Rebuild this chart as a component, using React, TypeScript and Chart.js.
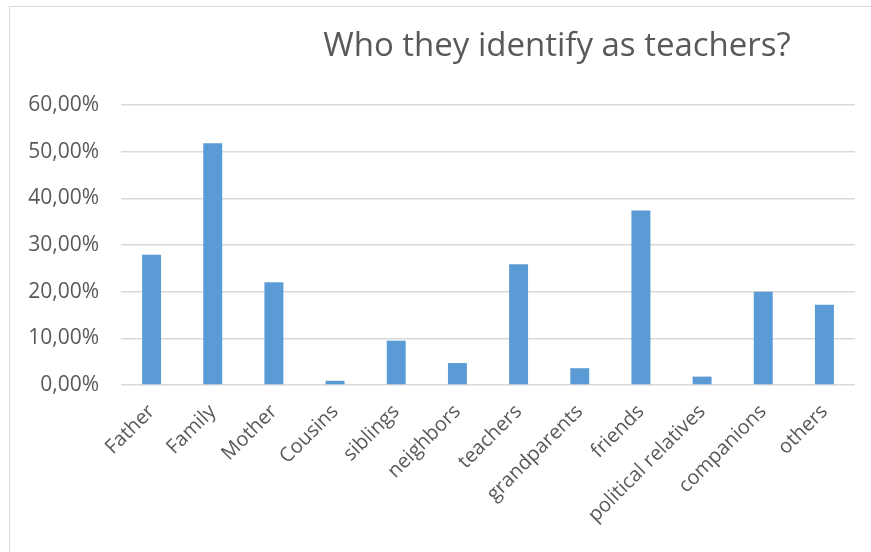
import React, { useEffect, useRef } from "react";
import { Chart, registerables } from "chart.js";

Chart.register(...registerables);

const TITLE = "Who they identify as teachers?";
const categories = [
  "Father",
  "Family",
  "Mother",
  "Cousins",
  "siblings",
  "neighbors",
  "teachers",
  "grandparents",
  "friends",
  "political relatives",
  "companions",
  "others",
];
const shares = [0.279, 0.518, 0.22, 0.009, 0.095, 0.047, 0.259, 0.036, 0.374, 0.018, 0.2, 0.172];
const yMin = 0;
const yMax = 0.6;
const yStep = 0.1;

const FONT = "'Open Sans', 'Liberation Sans', sans-serif";
const TEXT = "#595959";
const GRID = "#d9d9d9";

export default function App() {
  const ref = useRef<HTMLCanvasElement | null>(null);

  useEffect(() => {
    document.body.style.margin = "0";
    const canvas = ref.current;
    if (!canvas) return;

    const titlePlugin = {
      id: "customTitle",
      afterDraw(chart: any) {
        const ctx = chart.ctx;
        ctx.save();
        ctx.fillStyle = TEXT;
        ctx.font = `33px ${FONT}`;
        ctx.textAlign = "center";
        ctx.textBaseline = "alphabetic";
        ctx.fillText(TITLE, 557, 56);
        ctx.restore();
      },
    };

    const chart = new Chart(canvas, {
      type: "bar",
      data: {
        labels: categories,
        datasets: [
          {
            data: shares,
            backgroundColor: "#5b9bd5",
            borderWidth: 0,
            barPercentage: 1,
            categoryPercentage: 0.31,
          },
        ],
      },
      options: {
        animation: false,
        responsive: false,
        maintainAspectRatio: false,
        devicePixelRatio: 1,
        layout: { padding: { left: 0, top: 105, right: 16, bottom: 0 } },
        plugins: {
          legend: { display: false },
          title: { display: false },
          tooltip: { enabled: false },
        },
        scales: {
          x: {
            grid: { display: false, drawTicks: false },
            border: { display: false },
            ticks: {
              color: TEXT,
              font: { family: FONT, size: 20 },
              minRotation: 45,
              maxRotation: 45,
              padding: 15,
              autoSkip: false,
            },
            afterFit(scale: any) {
              scale.height = 167;
            },
          },
          y: {
            min: yMin,
            max: yMax,
            grid: { color: GRID, lineWidth: 1.5, drawTicks: false },
            border: { display: false },
            ticks: {
              stepSize: yStep,
              color: TEXT,
              font: { family: FONT, size: 21 },
              padding: 22,
              callback: (v: any) => (Number(v) * 100).toFixed(2).replace(".", ",") + "%",
            },
            afterFit(scale: any) {
              scale.width = 121;
            },
          },
        },
      },
      plugins: [titlePlugin],
    });

    return () => chart.destroy();
  }, []);

  return (
    <div style={{ position: "relative", width: 871, height: 552, overflow: "hidden", background: "#fff" }}>
      <canvas ref={ref} width={871} height={552} style={{ position: "absolute", left: 0, top: 0 }} />
      <div
        style={{
          position: "absolute",
          left: 9,
          top: 6,
          width: 880,
          height: 600,
          border: "1.5px solid #d9d9d9",
          boxSizing: "border-box",
          pointerEvents: "none",
        }}
      />
    </div>
  );
}
